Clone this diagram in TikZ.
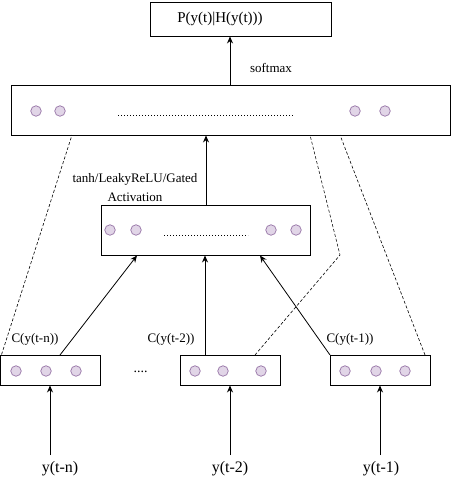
\documentclass[tikz,border=0pt]{standalone}
\usepackage{fontspec}
\setmainfont{Liberation Serif}
\usetikzlibrary{arrows.meta}
\begin{document}
\begin{tikzpicture}[x=1pt,y=-1pt,
  box/.style={draw=black,line width=0.9pt,fill=white},
  unit/.style={circle,line width=0.7pt,minimum size=10.5pt,inner sep=0pt},
  conn/.style={line width=0.8pt,-{Stealth[length=7pt,width=6pt]}},
  skip/.style={line width=0.6pt,dash pattern=on 3pt off 2pt},
  lab/.style={font=\fontsize{13}{15}\selectfont,inner sep=0pt},
  inp/.style={font=\fontsize{16}{18}\selectfont,inner sep=0pt}]
\definecolor{unitfill}{HTML}{E1D5E7}
\definecolor{unitdraw}{HTML}{9673A6}
\tikzset{unit/.append style={draw=unitdraw,fill=unitfill}}
\useasboundingbox (0,0) rectangle (452,477);
\fill[white] (0,0) rectangle (452,477);

% output distribution
\node[box,minimum width=181pt,minimum height=34pt,inner sep=0pt] (out) at (240.5,19) {};
\node[inner sep=0pt,font=\fontsize{15}{17}\selectfont] (outtxt) at (220,19) {P(y(t)|H(y(t)))};

% top hidden layer
\node[box,minimum width=439pt,minimum height=50pt] (top) at (230.5,110) {};
\foreach \x/\n in {36/a,60/b,355/c,385/d}
  \node[unit] (top\n) at (\x,111) {};
\draw[line width=1pt,dotted] (118,115) -- (293,115);

% middle hidden layer
\node[box,minimum width=209pt,minimum height=50pt] (mid) at (205.5,230) {};
\foreach \x/\n in {110/a,136/b,271/c,296/d}
  \node[unit] (mid\n) at (\x,230) {};
\draw[line width=1pt,dotted] (164,235) -- (248,235);

% context embedding boxes
\node[box,minimum width=100pt,minimum height=30pt] (cn) at (50,370) {};
\node[box,minimum width=100pt,minimum height=30pt] (c2) at (230,370) {};
\node[box,minimum width=100pt,minimum height=30pt] (c1) at (380,370) {};
\foreach \x/\n in {16/a,46/b,76/c} \node[unit] (cn\n) at (\x,371) {};
\foreach \x/\n in {195/a,223/b,261/c} \node[unit] (c2\n) at (\x,371) {};
\foreach \x/\n in {345/a,376/b,405/c} \node[unit] (c1\n) at (\x,371) {};
\node[lab,font=\fontsize{14}{16}\selectfont] (gap) at (140.5,372) {....};

% inputs
\node[inp,anchor=base] (yn) at (60,472) {y(t-n)};
\node[inp,anchor=base] (y2) at (230,472) {y(t-2)};
\node[inp,anchor=base] (y1) at (381,472) {y(t-1)};
\coordinate (ynt) at (50,455);
\coordinate (y2t) at (230,455);
\coordinate (y1t) at (380,455);
\draw[conn] (ynt) -- (cn.south -| ynt);
\draw[conn] (y2t) -- (c2.south -| y2t);
\draw[conn] (y1t) -- (c1.south -| y1t);

% embedding labels
\node[lab,anchor=base] (lcn) at (35,342) {C(y(t-n))};
\node[lab,anchor=base] (lc2) at (171,342) {C(y(t-2))};
\node[lab,anchor=base] (lc1) at (350,342) {C(y(t-1))};

% embeddings into the middle layer
\coordinate (cnt) at (60,355);
\coordinate (c2t) at (205,355);
\coordinate (c1t) at (330,355);
\draw[conn] (cnt) -- (137,255.5);
\draw[conn] (c2t) -- (mid.south -| c2t);
\draw[conn] (c1t) -- (260,255.5);

% direct connections to the top layer
\draw[skip] (cn.north west) ++(2,0) -- (72,135);
\draw[skip] (255,355) -- (340,255) -- (310,135);
\draw[skip] (425,355) -- (340,135);

% middle to top, top to output
\draw[conn] (mid.north -| 206,0) -- (top.south -| 206,0);
\draw[conn] (top.north -| 230,0) -- (out.south -| 230,0);

\node[lab,anchor=base] (act1) at (135,182) {tanh/LeakyReLU/Gated};
\node[lab,anchor=base] (act2) at (135,201) {Activation};
\node[lab,anchor=base] (sm) at (271,72) {softmax};
\end{tikzpicture}
\end{document}
